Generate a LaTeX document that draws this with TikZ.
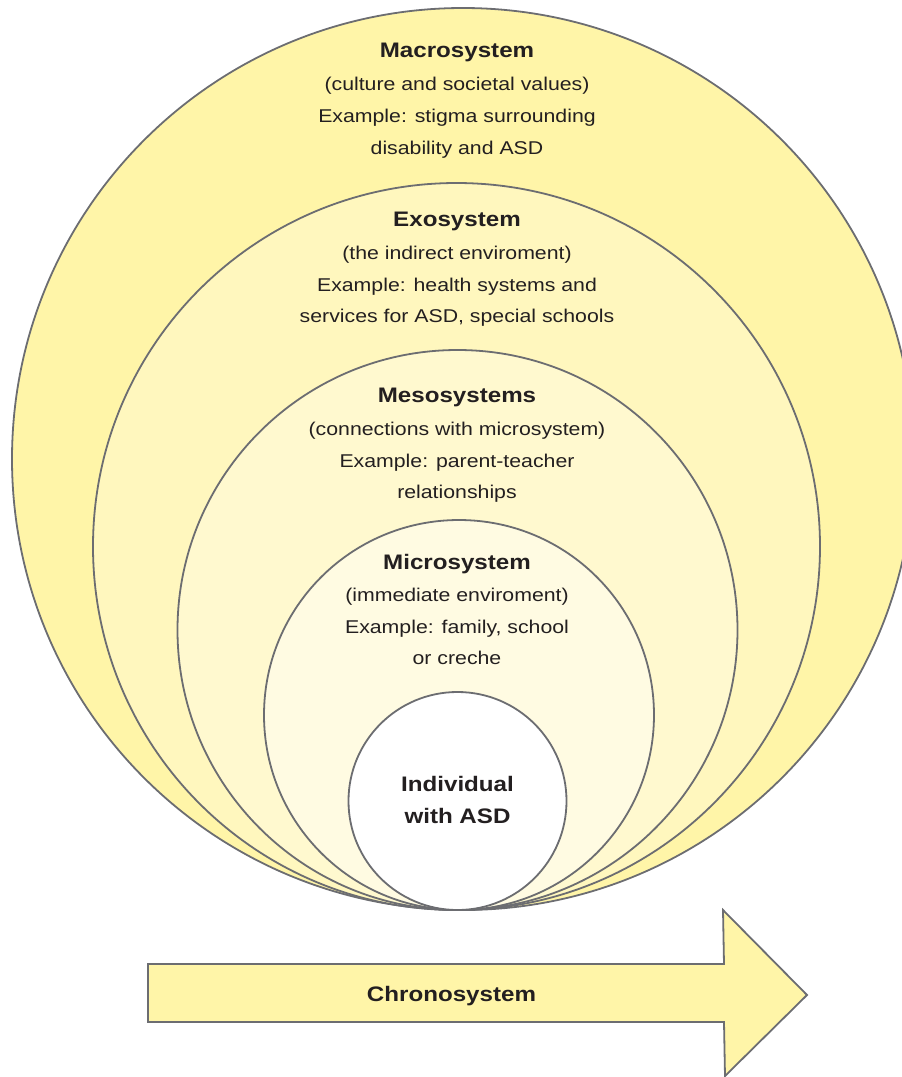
\documentclass[tikz,border=0pt]{standalone}
\usepackage{fontspec}
\setmainfont{Liberation Sans}[FakeStretch=1.15]
\definecolor{linegray}{RGB}{108,109,113}
\definecolor{macrofill}{RGB}{255,245,168}
\definecolor{exofill}{RGB}{255,247,190}
\definecolor{mesofill}{RGB}{255,249,207}
\definecolor{microfill}{RGB}{255,251,226}
\definecolor{textcol}{RGB}{35,31,32}
\tikzset{
  ring/.style={circle, draw=linegray, line width=1.8pt, inner sep=0pt},
  ttl/.style={anchor=base, text=textcol, inner sep=0pt, font=\bfseries\fontsize{21}{25}\selectfont},
  txt/.style={anchor=base, text=textcol, inner sep=0pt, font=\fontsize{18.5}{22}\selectfont},
}
\begin{document}
\begin{tikzpicture}[x=1pt,y=-1pt]
\useasboundingbox (0,0) rectangle (902,1077);
% circles
\node[ring, fill=macrofill, minimum size=902pt] (macro) at (463,459) {};
\node[ring, fill=exofill, minimum size=727pt] (exo) at (456.5,546.5) {};
\node[ring, fill=mesofill, minimum size=560pt] (meso) at (457.5,630) {};
\node[ring, fill=microfill, minimum size=390pt] (micro) at (459,715) {};
\node[ring, fill=white, minimum size=218pt] (indiv) at (457.5,801) {};
% macrosystem text
\node[ttl] (t1) at (457,57.3) {Macrosystem};
\node[txt] (t2) at (457,90) {(culture and societal values)};
\node[txt] (t3) at (457,122.3) {Example: stigma surrounding};
\node[txt] (t4) at (457,154) {disability and ASD};
% exosystem text
\node[ttl] (e1) at (457,226.7) {Exosystem};
\node[txt] (e2) at (457,259.3) {(the indirect enviroment)};
\node[txt] (e3) at (457,291.7) {Example: health systems and};
\node[txt] (e4) at (457,322.7) {services for ASD, special schools};
% mesosystem text
\node[ttl] (m1) at (457,402.7) {Mesosystems};
\node[txt] (m2) at (457,435) {(connections with microsystem)};
\node[txt] (m3) at (457,467.3) {Example: parent-teacher};
\node[txt] (m4) at (457,498.3) {relationships};
% microsystem text
\node[ttl] (c1) at (457,569.5) {Microsystem};
\node[txt] (c2) at (457,601.5) {(immediate enviroment)};
\node[txt] (c3) at (457,633.3) {Example: family, school};
\node[txt] (c4) at (457,664) {or creche};
% individual
\node[ttl] (i1) at (457.5,791.7) {Individual};
\node[ttl] (i2) at (457.5,823.3) {with ASD};
% chronosystem arrow
\draw[draw=linegray, line width=1.8pt, fill=macrofill, line join=miter]
  (148,964) -- (724,964) -- (723,910) -- (807,995) -- (725,1076) -- (724,1022) -- (148,1022) -- cycle;
\node[ttl] (chrono) at (451.5,1001.7) {Chronosystem};
\end{tikzpicture}
\end{document}
